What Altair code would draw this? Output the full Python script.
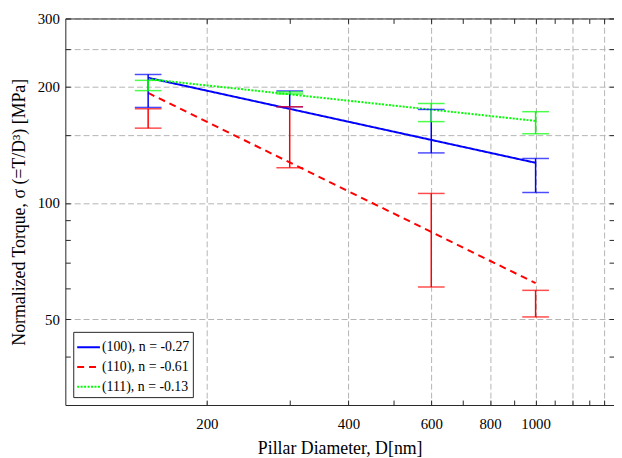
import altair as alt
import pandas as pd

# ---------------- data ----------------
diameters = [150, 300, 600, 1000]
series_names = ["(100), n = -0.27", "(110), n = -0.61", "(111), n = -0.13"]

hi_100 = [214.9, 194.8, 174.5, 130.3]
lo_100 = [176.6, 177.3, 134.7, 106.4]
hi_110 = [175.2, 177.3, 105.8, 59.4]
lo_110 = [156.1, 123.3, 60.6, 50.7]
hi_111 = [207.5, 193.7, 180.8, 172.2]
lo_111 = [195.2, 191.4, 162.3, 151.0]

fit_d = [150, 1000]
fit_100 = [210.7, 127.0]
fit_110 = [192.5, 62.0]
fit_111 = [209.1, 163.0]

x_grid = [200, 400, 600, 800, 1000, 1200, 1400]
x_ticks = [200, 300, 400, 500, 600, 700, 800, 900, 1000, 1100, 1200, 1300, 1400]
y_grid = [50, 100, 150, 200, 250, 300]
y_ticks = [40, 50, 60, 70, 80, 90, 100, 150, 200, 250, 300]

colors = ["#0000ff", "#ff0000", "#00ff00"]
dashes = [[1, 0], [7, 5], [2, 1.5]]

# ---------------- tables ----------------
err_rows = []
for name, hi, lo in zip(series_names, [hi_100, hi_110, hi_111], [lo_100, lo_110, lo_111]):
    for d, h, l in zip(diameters, hi, lo):
        err_rows.append({"series": name, "D": d, "hi": h, "lo": l})
err_df = pd.DataFrame(err_rows)

fit_rows = []
for name, fv in zip(series_names, [fit_100, fit_110, fit_111]):
    for d, v in zip(fit_d, fv):
        fit_rows.append({"series": name, "D": d, "sigma": v})
fit_df = pd.DataFrame(fit_rows)

# ---------------- styling ----------------
W, H = 555, 391
FONT = "Liberation Serif"
AX = "#262626"
GRID = "#b4b4b4"

xs = alt.Scale(type="log", domain=[100, 1468], nice=False)
ys = alt.Scale(type="log", domain=[30, 300], nice=False)
cs = alt.Scale(domain=series_names, range=colors)
ds = alt.Scale(domain=series_names, range=dashes)

leg = alt.Legend(
    title=None, orient="bottom-left", offset=8, padding=3,
    strokeColor=AX, fillColor="white",
    symbolType="stroke", symbolSize=529, symbolStrokeWidth=2,
    rowPadding=-6, labelFont=FONT, labelFontSize=14, labelColor="black",
    labelLimit=300, labelOffset=1,
)

main_x = alt.Axis(
    orient="bottom", values=x_grid, format="d",
    labelExpr="datum.value <= 1000 ? datum.label : ''",
    ticks=False, grid=True, gridDash=[6, 3], gridColor=GRID, gridWidth=1,
    domain=True, domainColor=AX, domainWidth=1, labelPadding=12,
    title="Pillar Diameter, D[nm]", titlePadding=8,
)
main_y = alt.Axis(
    orient="left", values=y_grid, format="d",
    labelExpr="(datum.value == 150 || datum.value == 250) ? '' : datum.label",
    ticks=False, grid=True, gridDash=[6, 3], gridColor=GRID, gridWidth=1,
    domain=True, domainColor=AX, domainWidth=1, labelPadding=6,
    title="Normalized Torque, σ (=T/D³) [MPa]", titlePadding=9,
)
# inward ticks along bottom edge and left edge
in_bottom = alt.Axis(orient="top", offset=-H, values=x_ticks, labels=False, domain=False,
                     grid=False, ticks=True, tickSize=5, tickColor=AX, title=None)
in_left = alt.Axis(orient="right", offset=-W, values=y_ticks, labels=False, domain=False,
                   grid=False, ticks=True, tickSize=5, tickColor=AX, title=None)
# top border with inward ticks, and inward ticks along the right edge
in_top = alt.Axis(orient="bottom", offset=-H, values=x_ticks, labels=False, domain=True,
                  domainColor=AX, grid=False, ticks=True, tickSize=5, tickColor=AX, title=None)
in_right = alt.Axis(orient="left", offset=-W, values=y_ticks, labels=False, domain=False,
                    grid=False, ticks=True, tickSize=5, tickColor=AX, title=None)

bars = alt.Chart(err_df).mark_rule(strokeWidth=1.5).encode(
    x=alt.X("D:Q", scale=xs, axis=in_bottom),
    y=alt.Y("lo:Q", scale=ys, axis=in_left),
    y2="hi:Q",
    color=alt.Color("series:N", scale=cs, legend=None),
)
caps_hi = alt.Chart(err_df).mark_tick(orient="horizontal", size=27, thickness=1.5).encode(
    x=alt.X("D:Q", scale=xs, axis=in_top),
    y=alt.Y("hi:Q", scale=ys, axis=in_right),
    color=alt.Color("series:N", scale=cs, legend=None),
)
caps_lo = alt.Chart(err_df).mark_tick(orient="horizontal", size=27, thickness=1.5).encode(
    x=alt.X("D:Q", scale=xs, axis=None),
    y=alt.Y("lo:Q", scale=ys, axis=None),
    color=alt.Color("series:N", scale=cs, legend=None),
)
lines = alt.Chart(fit_df).mark_line(strokeWidth=2).encode(
    x=alt.X("D:Q", scale=xs, axis=main_x),
    y=alt.Y("sigma:Q", scale=ys, axis=main_y),
    color=alt.Color("series:N", scale=cs, legend=leg),
    strokeDash=alt.StrokeDash("series:N", scale=ds, legend=leg),
)

chart = (
    alt.layer(lines, bars, caps_lo, caps_hi)
    .resolve_axis(x="independent", y="independent")
    .resolve_legend(color="independent", strokeDash="independent")
    .properties(
        width=W, height=H,
        autosize=alt.AutoSizeParams(type="none"),
        padding={"left": 58, "top": 8, "right": 0, "bottom": 52},
    )
    .configure_view(stroke=None)
    .configure_axis(
        labelFont=FONT, titleFont=FONT, labelFontSize=15, titleFontSize=18,
        titleFontWeight="normal", labelColor="black", titleColor="black",
    )
)

chart.save("out.html", embed_options={"renderer": "svg", "actions": False})
